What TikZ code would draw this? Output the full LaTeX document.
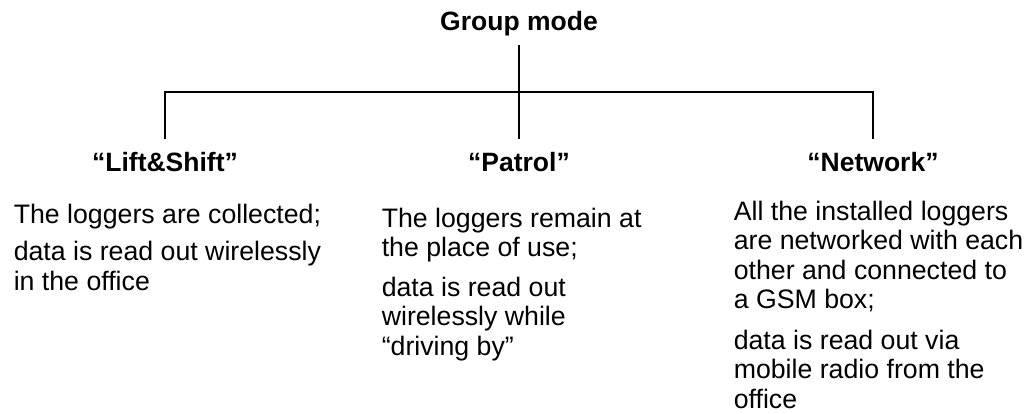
\documentclass[tikz,border=0pt]{standalone}
\usepackage{fontspec}
\setmainfont{Liberation Sans}
\usetikzlibrary{positioning}

\begin{document}
\begin{tikzpicture}[
    line width=1.6pt,
    title/.style={font=\bfseries\fontsize{26.5}{29.5}\selectfont, anchor=base,
        inner sep=0pt, outer ysep=9pt},
    heading/.style={font=\bfseries\fontsize{26.5}{29.5}\selectfont, anchor=base,
        inner sep=0pt, outer ysep=13.5pt},
    body/.style={font=\fontsize{26.7}{29.5}\selectfont, align=left,
        anchor=north west, inner sep=0pt}
]

    \useasboundingbox (0pt,0pt) rectangle (1034pt,-414pt);

    % Nodes ------------------------------------------------------

    \node[title] (mode) at (519pt,-31pt) {Group mode};
    \coordinate (hub) at (519pt,-92pt);

    \node[heading] (lift) at (165pt,-172pt) {“Lift\&Shift”};
    \node[heading] (patrol) at (519pt,-172pt) {“Patrol”};
    \node[heading] (network) at (873pt,-172pt) {“Network”};

    % texts
    \node[body] (lift_text) at (13pt,-203pt)
        {The loggers are collected;\\[8pt]
         data is read out wirelessly\\
         in the office};
    \node[body] (patrol_text) at (381pt,-207pt)
        {The loggers remain at\\
         the place of use;\\[10pt]
         data is read out\\
         wirelessly while\\
         “driving by”};
    \node[body] (network_text) at (733pt,-200pt)
        {All the installed loggers\\
         are networked with each\\
         other and connected to\\
         a GSM box;\\[11pt]
         data is read out via\\
         mobile radio from the\\
         office};

    % Lines ---------------------------------------------------

    \draw (mode) -- (hub);
    \draw (lift) -- (lift |- hub) -- (network |- hub) -- (network);
    \draw (hub) -- (patrol);

\end{tikzpicture}
\end{document}
